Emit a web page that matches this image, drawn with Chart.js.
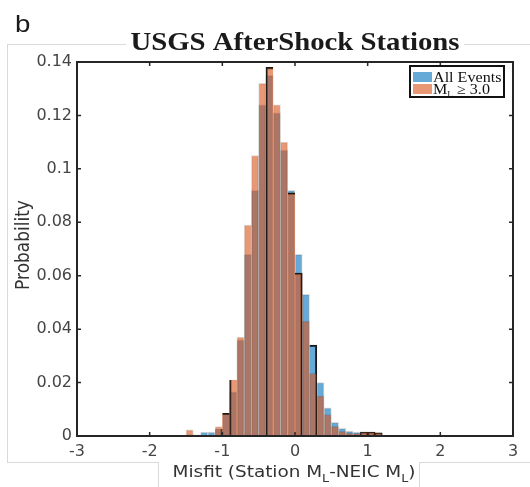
<!DOCTYPE html>
<html>
<head>
<meta charset="utf-8">
<script src="https://cdn.jsdelivr.net/npm/chart.js@4.4.0/dist/chart.umd.min.js"></script>
<style>
  html, body { margin: 0; padding: 0; background: #fff; }
</style>
</head>
<body>
<canvas id="chart" width="530" height="487"></canvas>
<script>
// histogram bin centres, bin width 0.1
const binCenters = [-1.45, -1.35, -1.25, -1.15, -1.05, -0.95, -0.85, -0.75, -0.65, -0.55, -0.45, -0.35, -0.25, -0.15,
  -0.05, 0.05, 0.15, 0.25, 0.35, 0.45, 0.55, 0.65, 0.75, 0.85, 0.95, 1.05, 1.15];
// probability per bin
const allEvents = [0.0005, 0.0004, 0.0015, 0.0015, 0.0026, 0.0086, 0.0165, 0.036, 0.068, 0.092, 0.124, 0.135, 0.121, 0.107,
  0.092, 0.068, 0.053, 0.034, 0.020, 0.0105, 0.0051, 0.0029, 0.0018, 0.0015, 0.0015, 0.0015, 0.0012];
const mlAbove3 = [0.0023, 0, 0, 0, 0.0035, 0.0085, 0.021, 0.037, 0.079, 0.105, 0.132, 0.138, 0.124, 0.110,
  0.091, 0.061, 0.043, 0.0235, 0.015, 0.008, 0.0036, 0.0018, 0.0012, 0.001, 0.0015, 0.0015, 0.0012];
const xTicks = [-3, -2, -1, 0, 1, 2, 3];
const yTicks = [0, 0.02, 0.04, 0.06, 0.08, 0.1, 0.12, 0.14];

const BLUE = 'rgba(0, 114, 189, 0.6)';
const ORANGE = 'rgba(217, 83, 25, 0.6)';
const SX = 1.15; // the source figure is a little stretched sideways

// bars whose edges show up dark in the figure
const darkEdgesMl = { '-0.95': ['top'], '-0.85': ['left'], '-0.35': ['left', 'top'], '-0.05': ['top'], '0.05': ['top', 'right'] };
const darkEdgesAll = { '0.25': ['top', 'right'], '-1.05': ['right'], '0.95': ['top', 'left', 'right'],
  '1.05': ['top', 'left', 'right'], '1.15': ['top', 'left', 'right'] };

const edgeKey = i => binCenters[i].toFixed(2).replace(/0$/, '');
const edgeWidth = map => ctx => {
  const sides = map[edgeKey(ctx.dataIndex)];
  if (!sides) return { left: 1, right: 1, top: 1, bottom: 0 };
  return {
    left: sides.includes('left') ? 1.5 : 0,
    right: sides.includes('right') ? 1.5 : 0,
    top: sides.includes('top') ? 1.5 : 0,
    bottom: 0
  };
};
const edgeColor = map => ctx => map[edgeKey(ctx.dataIndex)] ? '#1a1a1a' : 'rgba(60, 30, 20, 0.16)';

// draw text runs with subscripts
function drawRuns(ctx, runs, x, y, font, subFont, subDy, align) {
  ctx.save();
  let w = 0;
  runs.forEach(r => { ctx.font = r.sub ? subFont : font; w += ctx.measureText(r.t).width; });
  ctx.translate(x, y);
  ctx.scale(SX, 1);
  let cx = align === 'center' ? -w / 2 : 0;
  ctx.textAlign = 'left';
  ctx.textBaseline = 'alphabetic';
  runs.forEach(r => {
    ctx.font = r.sub ? subFont : font;
    ctx.fillText(r.t, cx, r.sub ? subDy : 0);
    cx += ctx.measureText(r.t).width;
  });
  ctx.restore();
}

const decorPlugin = {
  id: 'decor',
  beforeDraw(chart) {
    const ctx = chart.ctx;
    ctx.save();
    ctx.fillStyle = '#fff';
    ctx.fillRect(0, 0, chart.width, chart.height);
    // light panel outline
    ctx.strokeStyle = '#d9d9d9';
    ctx.lineWidth = 1;
    ctx.beginPath();
    ctx.moveTo(7, 44.5); ctx.lineTo(126, 44.5);
    ctx.moveTo(464, 44.5); ctx.lineTo(530, 44.5);
    ctx.moveTo(7.5, 44); ctx.lineTo(7.5, 462);
    ctx.moveTo(7, 462.5); ctx.lineTo(158, 462.5);
    ctx.moveTo(419, 462.5); ctx.lineTo(530, 462.5);
    ctx.moveTo(158.5, 462); ctx.lineTo(158.5, 487);
    ctx.moveTo(419.5, 462); ctx.lineTo(419.5, 487);
    ctx.stroke();
    ctx.restore();
  },
  afterDatasetsDraw(chart) {
    const ctx = chart.ctx;
    const a = chart.chartArea;
    const xs = chart.scales.x, ys = chart.scales.y;
    ctx.save();
    // axes box with inward ticks
    ctx.strokeStyle = '#262626';
    ctx.lineWidth = 2;
    ctx.strokeRect(a.left, a.top, a.right - a.left, a.bottom - a.top);
    ctx.lineWidth = 1.5;
    ctx.beginPath();
    xTicks.forEach(v => {
      const px = xs.getPixelForValue(v);
      ctx.moveTo(px, a.bottom); ctx.lineTo(px, a.bottom - 4);
      ctx.moveTo(px, a.top); ctx.lineTo(px, a.top + 4);
    });
    yTicks.forEach(v => {
      const py = ys.getPixelForValue(v);
      ctx.moveTo(a.left, py); ctx.lineTo(a.left + 4, py);
      ctx.moveTo(a.right, py); ctx.lineTo(a.right - 4, py);
    });
    ctx.stroke();

    // legend
    ctx.fillStyle = '#fff';
    ctx.fillRect(410, 66, 94, 31);
    ctx.strokeStyle = '#111';
    ctx.lineWidth = 2;
    ctx.strokeRect(410, 66, 94, 31);
    ctx.fillStyle = BLUE;
    ctx.fillRect(413, 72, 19, 10);
    ctx.fillStyle = ORANGE;
    ctx.fillRect(413, 84, 19, 10);
    ctx.fillStyle = '#111';
    drawRuns(ctx, [{ t: 'All Events' }], 433, 81.5, '14px "Liberation Serif"', '', 0, 'left');
    drawRuns(ctx, [{ t: 'M' }, { t: 'L', sub: true }, { t: ' \u2265 3.0' }], 433, 93.5,
      '14px "Liberation Serif"', '8px "Liberation Serif"', 3, 'left');

    // titles
    ctx.fillStyle = '#1a1a1a';
    drawRuns(ctx, [{ t: 'USGS AfterShock Stations' }], (a.left + a.right) / 2, 50,
      'bold 25px "Liberation Serif"', '', 0, 'center');
    drawRuns(ctx, [{ t: 'b' }], 15, 32, '24px "Liberation Sans"', '', 0, 'left');
    ctx.fillStyle = '#333';
    drawRuns(ctx, [{ t: 'Misfit (Station M' }, { t: 'L', sub: true }, { t: '-NEIC M' }, { t: 'L', sub: true }, { t: ')' }],
      294, 477, '16px "DejaVu Sans"', '11px "DejaVu Sans"', 5, 'center');
    ctx.translate(24, (a.top + a.bottom) / 2 - 4);
    ctx.scale(1.1, 1);
    ctx.rotate(-Math.PI / 2);
    ctx.font = '17px "DejaVu Sans"';
    ctx.textAlign = 'center';
    ctx.textBaseline = 'middle';
    ctx.fillText('Probability', 0, 0);
    ctx.restore();
  }
};

new Chart(document.getElementById('chart'), {
  type: 'bar',
  data: {
    datasets: [
      {
        label: 'M_L \u2265 3.0',
        data: binCenters.map((x, i) => ({ x, y: mlAbove3[i] })),
        backgroundColor: ORANGE,
        borderColor: edgeColor(darkEdgesMl),
        borderWidth: edgeWidth(darkEdgesMl),
        order: 1
      },
      {
        label: 'All Events',
        data: binCenters.map((x, i) => ({ x, y: allEvents[i] })),
        backgroundColor: BLUE,
        borderColor: edgeColor(darkEdgesAll),
        borderWidth: edgeWidth(darkEdgesAll),
        order: 2
      }
    ]
  },
  options: {
    responsive: false,
    animation: false,
    grouped: false,
    barPercentage: 1,
    categoryPercentage: 1,
    layout: { padding: { top: 62, right: 17, left: 0, bottom: 0 } },
    plugins: {
      legend: { display: false },
      tooltip: { enabled: false },
      title: { display: false }
    },
    scales: {
      x: {
        type: 'linear',
        min: -3,
        max: 3,
        offset: false,
        grid: { display: false, drawTicks: false },
        border: { display: false },
        ticks: {
          stepSize: 1,
          padding: 6,
          color: '#454545',
          font: { family: 'DejaVu Sans', size: 16 },
          maxRotation: 0,
          callback: v => String(Math.round(v))
        },
        afterFit: s => { s.height = 51; }
      },
      y: {
        min: 0,
        max: 0.14,
        grid: { display: false, drawTicks: false },
        border: { display: false },
        ticks: {
          stepSize: 0.02,
          padding: 5,
          color: '#454545',
          font: { family: 'DejaVu Sans', size: 16 },
          callback: v => String(+v.toFixed(2))
        },
        afterFit: s => { s.width = 77; }
      }
    }
  },
  plugins: [decorPlugin]
});
</script>
</body>
</html>
